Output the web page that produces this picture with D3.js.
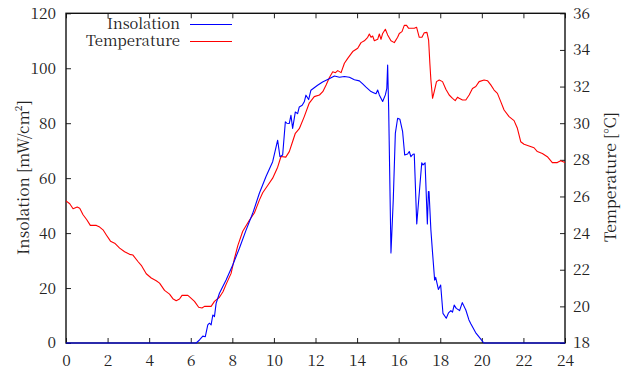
<!DOCTYPE html>
<html>
<head>
<meta charset="utf-8">
<script src="https://cdn.jsdelivr.net/npm/d3@7"></script>
<style>
  body { margin: 0; background: #fff; }
</style>
</head>
<body>
<svg id="chart" width="623" height="373" font-family="'Noto Serif CJK SC'"></svg>
<script>
// ---- data (hours of day, values) ----
const hourTicks = [0, 2, 4, 6, 8, 10, 12, 14, 16, 18, 20, 22, 24];
const insolationTicks = [0, 20, 40, 60, 80, 100, 120];
const temperatureTicks = [18, 20, 22, 24, 26, 28, 30, 32, 34, 36];

const insolationHours = [0,6.26,6.42,6.58,6.7,6.82,6.9,6.98,7.06,7.14,7.22,7.38,7.7,8.02,8.34,8.66,8.98,9.3,9.62,9.94,10.18,10.29,10.42,10.55,10.62,10.74,10.82,10.9,11.03,11.14,11.22,11.36,11.46,11.54,11.67,11.78,12.1,12.34,12.66,12.91,13.15,13.39,13.63,13.87,14.11,14.27,14.43,14.67,14.79,14.91,14.99,15.07,15.23,15.36,15.43,15.47,15.52,15.63,15.74,15.84,15.95,16.06,16.19,16.29,16.43,16.51,16.59,16.69,16.75,16.87,16.99,17.11,17.17,17.27,17.38,17.43,17.46,17.55,17.62,17.73,17.78,17.91,18.02,18.13,18.29,18.4,18.51,18.59,18.67,18.77,18.93,19.06,19.23,19.38,19.47,19.7,19.95,20.1,24];
const insolationValues = [0,0,1.1,2.5,2.3,6.6,7.2,6.6,10.2,9.6,14.4,18.1,22.9,28.4,34.5,41.1,47.2,54.5,60.6,66.0,73.8,67.8,68.4,80.5,80.0,79.9,82.9,78.1,84.1,83.5,85.9,86.5,87.8,90.2,88.6,92.0,93.8,95.0,96.2,97.2,96.7,97.0,96.7,95.8,95.4,94.3,93.1,91.5,91.1,90.7,92.1,90.3,87.9,90.3,92.7,101.2,84.8,32.8,52.1,76.3,81.8,81.4,76.9,68.4,68.8,69.7,67.8,68.7,68.8,43.3,54.5,65.6,64.8,65.6,43.3,55.1,55.1,41.1,33.8,22.9,23.9,19.5,21.1,10.8,9.0,11.0,11.8,11.2,13.8,12.6,11.8,14.7,12.0,8.4,7.0,3.8,1.4,0,0];

const temperatureHours = [0,0.18,0.34,0.54,0.66,0.82,1.0,1.17,1.46,1.62,1.78,1.94,2.14,2.34,2.58,2.82,3.06,3.22,3.46,3.62,3.86,4.1,4.34,4.5,4.74,4.98,5.14,5.3,5.46,5.58,5.86,5.97,6.18,6.38,6.54,6.66,6.98,7.14,7.38,7.55,7.7,7.94,8.1,8.26,8.5,8.82,9.06,9.3,9.46,9.7,9.94,10.18,10.34,10.57,10.74,10.9,11.03,11.22,11.46,11.7,11.94,12.19,12.35,12.51,12.67,12.83,12.96,13.07,13.23,13.39,13.55,13.79,14.03,14.19,14.35,14.51,14.59,14.67,14.75,14.83,14.99,15.07,15.15,15.23,15.36,15.47,15.63,15.79,15.95,16.03,16.16,16.27,16.38,16.48,16.75,16.86,16.99,17.12,17.23,17.36,17.44,17.5,17.55,17.63,17.71,17.82,17.95,18.11,18.27,18.43,18.59,18.72,18.83,18.91,19.07,19.23,19.39,19.55,19.71,19.87,20.11,20.27,20.43,20.59,20.75,20.91,21.07,21.31,21.55,21.71,21.87,22.03,22.27,22.51,22.67,22.91,23.15,23.39,23.63,23.79,24.0];
const temperatureValues = [25.76,25.6,25.33,25.42,25.36,25.0,24.73,24.42,24.42,24.33,24.18,23.9,23.56,23.45,23.18,22.98,22.84,22.8,22.45,22.24,21.78,21.55,21.4,21.27,20.87,20.67,20.42,20.31,20.4,20.6,20.6,20.49,20.27,19.95,19.91,20.0,20.0,20.27,20.5,20.8,21.2,21.8,22.6,23.3,24.1,24.7,25.1,25.8,26.2,26.6,27.0,27.6,28.18,28.15,28.45,29.0,29.45,29.7,30.36,31.1,31.45,31.54,31.72,32.09,32.49,32.81,32.76,32.87,32.76,33.27,33.54,33.91,34.09,34.4,34.5,34.69,34.87,34.69,34.76,34.5,34.58,34.87,34.58,34.9,35.13,34.82,34.5,34.4,34.69,34.9,35.0,35.34,35.34,35.18,35.18,35.24,34.69,34.69,34.94,34.96,34.54,33.27,32.36,31.36,31.72,32.27,32.36,32.27,31.85,31.54,31.36,31.23,31.42,31.36,31.27,31.27,31.54,31.9,32.0,32.27,32.36,32.32,32.09,31.81,31.63,31.18,30.72,30.36,30.14,29.72,28.99,28.85,28.76,28.66,28.45,28.35,28.17,27.85,27.85,27.95,27.86];

const seriesNames = ["Insolation", "Temperature"];
const seriesColors = ["#0000ff", "#ff0000"];

// ---- layout ----
const svg = d3.select("#chart");
const plotLeft = 66, plotRight = 565, plotTop = 13.3, plotBottom = 343;
const fs = 15.5;
const serif = "'Noto Serif CJK SC'";
const ink = "#222";

const x = d3.scaleLinear().domain([0, 24]).range([plotLeft, plotRight]);
const yL = d3.scaleLinear().domain([0, 120]).range([plotBottom, plotTop]);
const yR = d3.scaleLinear().domain([18, 36]).range([plotBottom, plotTop]);

function styleAxis(g, showText) {
  g.attr("font-family", serif).attr("font-size", fs);
  g.select(".domain").remove();
  g.selectAll(".tick line").attr("stroke", ink).attr("stroke-width", 1);
  g.selectAll(".tick text").attr("fill", ink).attr("font-family", serif).attr("font-size", fs);
  if (!showText) g.selectAll(".tick text").remove();
}

svg.append("g").attr("transform", `translate(0,${plotBottom})`)
  .call(d3.axisBottom(x).tickValues(hourTicks).tickSizeInner(-5).tickSizeOuter(0).tickPadding(12))
  .call(g => styleAxis(g, true));
svg.append("g").attr("transform", `translate(0,${plotTop})`)
  .call(d3.axisTop(x).tickValues(hourTicks).tickSizeInner(-5).tickSizeOuter(0))
  .call(g => styleAxis(g, false));
svg.append("g").attr("transform", `translate(${plotLeft},0)`)
  .call(d3.axisLeft(yL).tickValues(insolationTicks).tickSizeInner(-5).tickSizeOuter(0).tickPadding(10))
  .call(g => styleAxis(g, true));
svg.append("g").attr("transform", `translate(${plotRight},0)`)
  .call(d3.axisRight(yR).tickValues(temperatureTicks).tickSizeInner(-5).tickSizeOuter(0).tickPadding(8))
  .call(g => styleAxis(g, true));

// frame
svg.append("rect").attr("x", plotLeft).attr("y", plotTop)
  .attr("width", plotRight - plotLeft).attr("height", plotBottom - plotTop)
  .attr("fill", "none").attr("stroke", "#111").attr("stroke-width", 1.4);

const insolation = insolationHours.map((h, i) => [h, insolationValues[i]]);
const temperature = temperatureHours.map((h, i) => [h, temperatureValues[i]]);

svg.append("path").datum(temperature)
  .attr("fill", "none").attr("stroke", seriesColors[1]).attr("stroke-width", 1.1)
  .attr("stroke-linejoin", "round")
  .attr("d", d3.line().x(d => x(d[0])).y(d => yR(d[1])));
svg.append("path").datum(insolation)
  .attr("fill", "none").attr("stroke", seriesColors[0]).attr("stroke-width", 1.1)
  .attr("stroke-linejoin", "round")
  .attr("d", d3.line().x(d => x(d[0])).y(d => yL(d[1])));

// legend
const legendY = [24.5, 41.5];
const legendW = [73, 94];
seriesNames.forEach((name, i) => {
  svg.append("text").attr("x", 180).attr("y", legendY[i]).attr("dy", "0.33em")
    .attr("text-anchor", "end").attr("font-size", 15).attr("font-family", serif).attr("fill", ink)
    .attr("textLength", legendW[i]).attr("lengthAdjust", "spacingAndGlyphs")
    .text(name);
  svg.append("line").attr("x1", 190).attr("x2", 232)
    .attr("y1", legendY[i]).attr("y2", legendY[i])
    .attr("stroke", seriesColors[i]).attr("stroke-width", 1.1);
});

// axis titles
svg.append("text").attr("transform", `translate(29,177.5) rotate(-90)`)
  .attr("text-anchor", "middle").attr("font-size", fs).attr("font-family", serif).attr("fill", ink)
  .attr("textLength", 155).attr("lengthAdjust", "spacingAndGlyphs")
  .text("Insolation [mW/cm²]");
svg.append("text").attr("transform", `translate(616,177) rotate(-90)`)
  .attr("text-anchor", "middle").attr("font-size", fs).attr("font-family", serif).attr("fill", ink)
  .attr("textLength", 130).attr("lengthAdjust", "spacingAndGlyphs")
  .text("Temperature [°C]");
</script>
</body>
</html>
